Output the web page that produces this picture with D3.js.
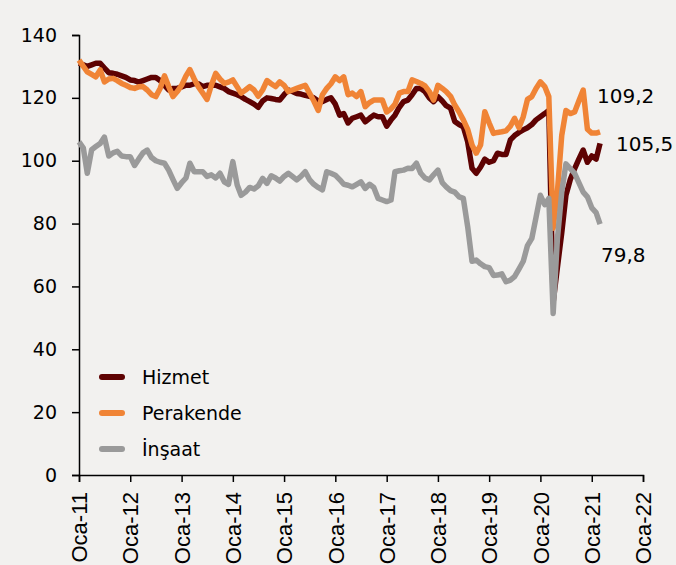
<!DOCTYPE html>
<html>
<head>
<meta charset="utf-8">
<script src="https://cdn.jsdelivr.net/npm/d3@7"></script>
<style>
  body { margin: 0; background: #f2f1ef; }
  svg { display: block; }
  .axis path, .axis line { stroke: #000; stroke-width: 1.5px; }
  .axis text { fill: #000; }
</style>
</head>
<body>
<svg id="chart" width="676" height="565"></svg>
<script>
// monthly indices, Oca-11 .. Mar-21
var startMonth = new Date(2011, 0, 1);

var hizmet = [
  131, 130.5, 130, 130.5, 131, 131, 129.5, 128, 127.8, 127.5, 127, 126.5,
  125.7, 125.5, 125, 125.5, 126, 126.5, 126.5, 125.5, 124, 122.5, 123, 123,
  123.5, 124, 124, 124.5, 124.5, 123.6, 124, 124, 124, 123.5, 123, 122,
  121.5, 121, 120.4, 119.5, 118.8, 118, 117, 119, 120, 119.8, 119.5, 119.3,
  121, 122.5, 122, 121.4, 121.2, 120.8, 120.5, 120, 119, 118.8, 119.5, 120,
  118, 114.5, 115, 112, 113.5, 114, 114.5, 112.4, 113.5, 114.5, 114, 114,
  111, 113, 114.5, 117, 118.8, 119.3, 121, 123, 123, 122, 120, 118.8,
  120.4, 119, 117.5, 116.7, 112.5, 111.5, 110.8, 106, 97.6, 96, 98, 100.5,
  99.5, 100, 102.4, 102, 102, 106.6, 108, 109, 109.8, 110.5, 111.5, 113,
  114, 115, 116, 55, 66, 77, 89, 94, 97.5, 100.5, 103.4, 99.5,
  101.5, 100.5, 105.5
];

var perakende = [
  132, 130, 128.3, 127.5, 126.7, 128.9, 125.1, 126, 126.2, 125.5, 124.6, 124,
  123.3, 123, 123.5, 123.6, 122.5, 121, 120.4, 123, 127, 123.6, 120.4, 122,
  124, 127, 129, 126, 123.5, 121.5, 119.5, 124, 127.8, 126, 124.6, 125,
  125.7, 123.5, 121.5, 122.5, 123.6, 122.5, 120.5, 122.5, 125.5, 124.5, 123.6, 125.1,
  124, 122, 122.5, 123, 123.5, 124, 121.5, 119, 116, 121, 123, 124.5,
  126.7, 125.5, 126.7, 121, 121.5, 120.4, 122, 117.2, 118.5, 119.3, 119.3, 119.3,
  115.5, 116.5, 118, 121.5, 122, 122, 125.7, 125.2, 124.6, 123.8, 122, 119.3,
  124, 123, 122, 120.5, 117.7, 115.5, 113, 110, 105, 102.4, 105, 115.6,
  112, 108.7, 109, 109.2, 109.5, 111, 113.5, 110.5, 114, 119.5, 120.4, 123,
  125.1, 123.6, 120.4, 78.5, 90, 108, 116, 115, 115.5, 119, 122.5, 110,
  108.8, 108.8, 109.2
];

var insaat = [
  106, 104, 96, 103.5, 104.5, 105.5, 107.5, 101.5, 102.5, 103, 101.5, 101.3,
  101.3, 98.5, 100.5, 102.5, 103.4, 101, 100, 99.5, 99.2, 97, 94, 91.2,
  93, 94.5, 99.2, 96.5, 96.5, 96.5, 95, 95.5, 94.5, 96, 93.3, 92.5,
  99.7, 92.3, 89, 90, 91.5, 91, 92, 94.4, 92.8, 95.2, 94.5, 93.5,
  95, 96, 95, 93.9, 95, 96.5, 94, 92.5, 91.5, 90.7, 96.5, 96,
  95.4, 94, 92.5, 92.2, 91.7, 92.5, 93.3, 91.2, 92.5, 91.5, 88, 87.5,
  87, 87.5, 96.5, 96.8, 97, 97.6, 97.5, 99.2, 96, 94.5, 93.9, 95.5,
  97, 93, 91.7, 90.5, 90, 88.5, 88, 79, 68, 68.4, 67.2, 66.3,
  66, 63.5, 63.6, 64, 61.5, 62, 63.1, 65.5, 68, 73, 75.3, 82,
  89, 86, 88, 51.4, 75, 90, 99, 97.5, 96, 93, 90, 88.5,
  85, 83.5, 79.8
];

var seriesNames = ["Hizmet", "Perakende", "İnşaat"];
var seriesColors = ["#5e0202", "#f08436", "#9a9a9a"];
var endLabels = ["105,5", "109,2", "79,8"];
var yTicks = [0, 20, 40, 60, 80, 100, 120, 140];

var svg = d3.select("#chart"),
    margin = {top: 35, right: 33, bottom: 90, left: 79},
    width = +svg.attr("width") - margin.left - margin.right,
    height = +svg.attr("height") - margin.top - margin.bottom,
    g = svg.append("g").attr("transform", "translate(" + margin.left + "," + margin.top + ")");

var dates = d3.range(hizmet.length).map(function(i) { return d3.timeMonth.offset(startMonth, i); });

var x = d3.scaleTime()
    .domain([new Date(2011, 0, 1), new Date(2022, 0, 1)])
    .range([0, width]);

var y = d3.scaleLinear()
    .domain([0, 140])
    .range([height, 0]);

var line = d3.line()
    .x(function(d, i) { return x(dates[i]); })
    .y(function(d) { return y(d); });

// axes
g.append("g")
    .attr("class", "axis")
    .call(d3.axisLeft(y).tickValues(yTicks).tickSize(7).tickPadding(15))
    .call(function(a) { a.selectAll("text").style("font-family", "DejaVu Sans").style("font-size", "19px"); });

g.append("g")
    .attr("class", "axis x")
    .attr("transform", "translate(0," + height + ")")
    .call(d3.axisBottom(x)
      .tickValues(d3.timeYear.range(new Date(2011, 0, 1), new Date(2022, 0, 2)))
      .tickSize(7)
      .tickFormat(function(d) { return "Oca-" + d3.timeFormat("%y")(d); }))
  .selectAll("text")
    .style("font-family", "Liberation Sans")
    .style("font-size", "22px")
    .attr("text-anchor", "end")
    .attr("transform", "rotate(-90)")
    .attr("x", -17)
    .attr("y", 0)
    .attr("dy", "0.35em");

g.selectAll(".axis path.domain").attr("stroke-width", 2);

// lines
[hizmet, perakende, insaat].forEach(function(s, k) {
  g.append("path")
      .datum(s)
      .attr("fill", "none")
      .attr("stroke", seriesColors[k])
      .attr("stroke-width", 5.5)
      .attr("stroke-linejoin", "round")
      .attr("d", line);
});

// end labels
var last = hizmet.length - 1;
var endPos = [
  {s: hizmet, dx: 16, dy: 8},
  {s: perakende, dx: -3, dy: -29},
  {s: insaat, dx: 1, dy: 38}
];
endPos.forEach(function(p, k) {
  g.append("text")
      .attr("x", x(dates[last]) + p.dx)
      .attr("y", y(p.s[last]) + p.dy)
      .style("font-family", "DejaVu Sans")
      .style("font-size", "20px")
      .attr("fill", "#000")
      .text(endLabels[k]);
});

// legend
var legend = g.append("g").attr("transform", "translate(23,342)");
seriesNames.forEach(function(n, k) {
  var row = legend.append("g").attr("transform", "translate(0," + (k * 36) + ")");
  row.append("line")
      .attr("x1", 0).attr("x2", 20)
      .attr("stroke", seriesColors[k])
      .attr("stroke-width", 6)
      .attr("stroke-linecap", "round");
  row.append("text")
      .attr("x", 40)
      .attr("dy", "0.35em")
      .style("font-family", "DejaVu Sans")
      .style("font-size", "19px")
      .attr("fill", "#000")
      .text(n);
});
</script>
</body>
</html>
